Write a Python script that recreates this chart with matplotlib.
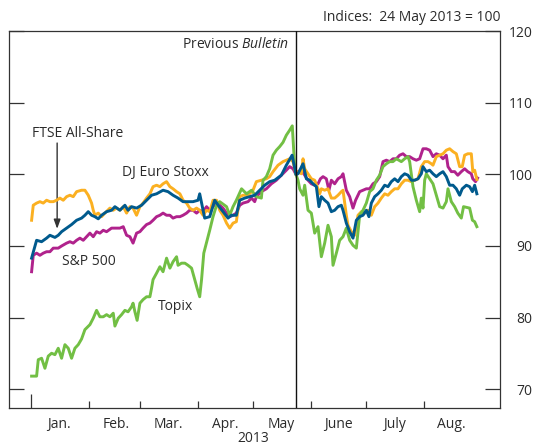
import datetime as dt
import matplotlib
matplotlib.use("Agg")
import matplotlib.pyplot as plt
import matplotlib.dates as mdates
from matplotlib.ticker import FixedLocator, FixedFormatter, NullFormatter

# ---------------- data (days since 1 Jan 2013, index values 24 May 2013 = 100) -------------
ftse_days = [0.2, 2.9, 5.6, 8.3, 10.1, 12.8, 14.6, 16.4, 19.1, 21.8, 24.5, 27.2, 29.0, 30.8, 32.6,
             34.4, 36.2, 38.0, 40.7, 43.4, 45.2, 47.9, 50.6, 52.3, 54.2, 56.9, 59.6, 62.3, 65.0,
             67.7, 71.2, 73.9, 76.6, 79.3, 82.0, 84.7, 87.4, 90.1, 91.0, 93.7, 96.4, 99.1, 101.8,
             104.5, 106.3, 108.1, 110.8, 112.6, 115.3, 118.0, 120.7, 123.4, 126.1, 128.8, 131.5,
             135.1, 137.8, 140.9, 143.0, 144.1, 146.8, 148.6, 150.4, 152.2, 154.0, 155.4, 156.7,
             158.5, 160.3, 162.1, 163.9, 165.7, 167.5, 168.4, 170.2, 172.0, 173.8, 175.6, 177.4,
             179.2, 181.0, 182.4, 183.7, 185.5, 187.3, 189.1, 190.9, 192.7, 194.5, 196.3, 198.1,
             199.9, 201.7, 203.5, 205.3, 207.1, 208.9, 210.7, 211.6, 213.4, 215.2, 217.0, 218.8,
             220.6, 222.4, 224.2, 226.0, 227.8, 229.6, 231.4, 232.8, 235.0, 236.8, 238.3, 239.5,
             240.7]
ftse_vals = [88.3, 90.8, 90.6, 91.1, 91.5, 91.2, 91.5, 92.0, 92.5, 93.0, 93.6, 93.9, 94.3, 94.8, 94.3,
             94.1, 93.8, 94.3, 94.8, 95.0, 95.5, 95.0, 95.7, 95.0, 95.5, 95.3, 95.7, 96.4, 97.1,
             97.3, 97.8, 97.6, 97.1, 96.7, 96.2, 96.2, 96.2, 96.4, 97.3, 93.9, 94.1, 96.4, 95.4,
             94.5, 93.9, 94.3, 94.3, 96.4, 96.7, 96.9, 97.1, 97.8, 98.5, 99.0, 99.2,
             99.9, 101.3, 102.7, 100.0, 100.1, 101.5, 99.4, 99.2, 98.7, 98.3, 95.5, 96.9,
             96.4, 96.0, 94.8, 95.0, 95.5, 95.7, 95.0, 93.2, 92.0, 91.1, 93.6, 94.1,
             94.3, 95.0, 94.1, 96.0, 96.9, 97.3, 97.8, 98.5, 98.3, 99.0, 99.4, 99.0,
             99.7, 100.1, 99.9, 99.2, 99.2, 99.4, 100.1, 101.1, 100.4, 100.6, 100.1, 99.7,
             100.1, 100.4, 99.7, 98.5, 98.5, 98.0, 97.1, 98.0, 98.5, 98.3, 97.6, 98.5,
             97.3]

stoxx_days = [0.2, 1.1, 2.9, 4.7, 6.5, 8.3, 10.1, 11.9, 13.7, 15.5, 17.3, 19.1, 20.9, 22.7, 24.5,
              27.2, 29.0, 30.8, 32.6, 33.5, 34.4, 36.2, 38.0, 39.8, 42.5, 44.3, 46.1, 47.9, 49.7,
              51.5, 53.3, 55.0, 56.9, 58.7, 60.4, 62.3, 64.1, 65.8, 67.7, 69.5, 71.2, 73.1, 74.9,
              76.6, 78.5, 80.3, 82.0, 83.9, 85.6, 87.4, 89.3, 91.0, 92.8, 94.7, 96.4, 98.2, 100.1,
              101.8, 103.6, 105.5, 107.2, 109.0, 110.8, 112.6, 114.4, 117.1, 119.8, 121.6, 124.3,
              127.0, 128.8, 130.6, 133.3, 136.0, 137.8, 139.6, 141.4, 143.0, 144.1, 145.9, 146.8,
              147.7, 149.5, 151.3, 153.1, 154.9, 155.8, 156.7, 158.5, 160.3, 162.1, 163.9, 165.7,
              167.5, 168.4, 170.2, 171.1, 172.9, 174.7, 176.5, 178.3, 180.1, 181.9, 183.7, 185.5,
              187.3, 189.1, 190.9, 192.7, 194.5, 196.3, 198.1, 199.9, 201.7, 203.5, 205.3, 207.1,
              208.9, 210.7, 212.5, 214.3, 216.1, 217.0, 218.8, 220.6, 222.4, 224.2, 226.0, 227.8,
              229.6, 231.4, 232.8, 234.1, 235.8, 237.7, 238.5, 239.5, 240.7]
stoxx_vals = [93.6, 95.7, 96.0, 96.2, 96.0, 96.4, 96.2, 96.2, 96.4, 96.7, 96.4, 96.9, 97.1, 96.9, 97.6,
              97.8, 97.8, 97.1, 96.0, 95.0, 94.3, 94.6, 94.1, 94.6, 95.3, 95.0, 95.3, 95.0, 95.5,
              94.6, 95.5, 95.3, 94.3, 95.5, 96.0, 96.7, 97.3, 98.3, 98.5, 98.3, 98.7, 99.0, 98.3,
              98.0, 97.6, 97.3, 96.4, 96.0, 95.3, 95.0, 95.3, 95.0, 94.3, 95.0, 94.8, 96.4, 96.4,
              95.0, 94.3, 93.2, 92.5, 93.2, 93.4, 96.9, 97.1, 97.1, 97.8, 99.0, 99.2,
              99.4, 99.7, 100.4, 101.3, 101.8, 102.0, 102.2, 101.8, 100.0, 100.4, 100.1, 102.2,
              100.8, 100.1, 99.4, 99.2, 98.0, 97.3, 98.0, 97.8, 98.0, 96.7, 96.7, 97.1,
              97.6, 97.8, 94.3, 92.9, 92.0, 91.5, 94.3, 94.8, 94.6, 95.0, 94.3, 95.5,
              96.0, 96.7, 97.3, 97.1, 97.6, 98.0, 98.0, 98.7, 99.2, 99.2, 99.0, 99.2,
              99.4, 101.1, 101.8, 101.8, 101.5, 101.3, 102.5, 102.7, 102.9, 103.4, 103.6, 103.2,
              102.9, 101.1, 101.1, 102.7, 102.9, 102.9, 100.4, 100.6, 99.3]

sp_days = [0.2, 1.1, 2.9, 4.7, 6.5, 8.3, 10.1, 11.9, 14.6, 16.4, 19.1, 20.9, 22.7, 24.5, 26.3,
           28.1, 29.9, 31.7, 33.5, 35.3, 37.1, 38.9, 40.7, 43.4, 46.1, 47.9, 49.7, 51.5, 53.3,
           55.0, 56.9, 58.7, 60.4, 62.3, 64.1, 65.8, 67.7, 69.5, 71.2, 73.1, 74.9, 76.6, 78.5,
           80.3, 82.0, 83.9, 85.6, 87.4, 89.3, 91.0, 92.8, 94.7, 96.4, 98.2, 100.1, 101.8, 103.6,
           105.5, 107.2, 109.0, 110.8, 112.6, 114.4, 117.1, 119.0, 120.7, 121.6, 124.3, 127.0,
           129.7, 132.4, 135.1, 137.8, 139.6, 141.4, 143.0, 144.1, 145.9, 147.7, 149.5, 151.3,
           153.1, 154.9, 156.2, 157.6, 159.4, 160.8, 162.1, 163.9, 165.7, 167.5, 168.4, 170.2,
           172.0, 173.8, 175.2, 177.4, 179.2, 181.0, 182.8, 184.6, 186.4, 188.2, 190.0, 191.8,
           193.6, 195.4, 197.2, 199.0, 200.8, 202.6, 204.4, 206.2, 208.0, 209.8, 211.6, 213.4,
           215.2, 217.0, 218.8, 220.6, 222.4, 224.2, 225.1, 226.9, 228.7, 230.4, 232.3, 234.1,
           235.8, 237.7, 238.5, 240.0, 241.1]
sp_vals = [86.4, 88.7, 89.0, 88.7, 89.0, 89.2, 89.2, 89.7, 89.7, 90.0, 90.4, 90.6, 90.4, 90.8, 91.1,
           90.8, 91.3, 91.8, 91.3, 92.0, 91.8, 92.2, 92.0, 92.5, 92.5, 92.5, 92.7, 91.5, 91.3,
           90.4, 91.8, 92.0, 92.5, 93.0, 93.2, 93.6, 94.1, 94.3, 94.6, 94.3, 94.3, 93.9, 94.1,
           94.1, 94.3, 94.6, 95.0, 95.0, 94.6, 95.0, 94.8, 95.5, 95.0, 95.5, 96.2, 95.7, 95.3,
           94.6, 94.1, 94.3, 94.6, 95.7, 96.0, 96.2, 96.7, 96.2, 96.9, 97.6, 98.0,
           98.7, 99.2, 99.9, 100.6, 101.1, 100.8, 100.0, 100.4, 100.6, 99.9, 99.2, 98.7,
           98.5, 98.7, 99.4, 99.7, 99.4, 97.8, 99.2, 98.7, 99.4, 99.7, 100.1, 97.8,
           96.9, 95.3, 96.4, 97.6, 97.8, 98.0, 98.0, 98.7, 99.0, 99.7, 101.8, 102.0,
           101.8, 102.2, 102.2, 102.7, 102.9, 102.5, 102.5, 102.2, 102.0, 102.2, 103.6, 103.6,
           103.4, 102.5, 102.9, 102.7, 102.2, 102.7, 101.1, 100.4, 100.4, 99.9, 100.4, 100.8,
           100.4, 100.1, 99.4, 99.0, 99.5]

topix_days = [0.2, 2.9, 3.8, 5.6, 7.4, 9.2, 11.0, 12.8, 14.6, 16.4, 18.2, 20.0, 21.8, 23.6, 25.4,
              27.2, 29.0, 31.7, 33.5, 35.3, 37.1, 38.9, 40.7, 42.5, 44.3, 45.2, 47.0, 48.8, 50.6,
              52.3, 54.2, 55.0, 56.0, 57.2, 58.7, 60.4, 62.3, 64.1, 65.0, 65.8, 67.7, 69.5, 71.2,
              73.1, 74.9, 76.6, 78.5, 79.3, 81.2, 83.0, 84.7, 86.6, 88.3, 89.6, 91.0, 92.0, 93.2,
              95.0, 96.4, 98.2, 100.1, 101.8, 105.5, 107.2, 109.0, 110.8, 113.6, 116.3, 119.0,
              121.6, 124.3, 125.2, 127.0, 128.8, 130.6, 132.4, 134.2, 136.0, 137.8, 139.6, 141.0,
              142.3, 143.0, 144.1, 145.0, 146.8, 147.7, 149.5, 151.3, 153.1, 154.9, 156.7, 158.5,
              160.3, 162.1, 163.0, 164.8, 166.6, 168.4, 170.2, 172.0, 173.8, 175.6, 177.4, 179.2,
              181.0, 182.8, 184.6, 186.4, 188.2, 190.0, 191.8, 193.6, 195.4, 197.2, 199.9, 201.7,
              203.5, 204.4, 206.2, 208.0, 209.8, 210.7, 211.6, 212.5, 213.4, 215.2, 217.0, 218.8,
              220.6, 222.4, 224.2, 225.1, 226.9, 228.7, 230.4, 232.3, 233.5, 236.8, 238.3, 239.5,
              240.7]
topix_vals = [71.8, 71.8, 74.1, 74.3, 72.9, 74.6, 75.0, 74.8, 75.7, 74.3, 76.2, 75.7, 74.3, 75.7, 76.2,
              77.0, 78.3, 79.0, 79.9, 81.0, 80.1, 80.1, 80.4, 80.1, 80.6, 78.8, 79.9, 80.4, 81.0,
              80.8, 81.5, 82.0, 80.8, 79.6, 82.0, 82.5, 82.9, 82.9, 84.1, 85.3, 86.2, 87.1, 86.4,
              88.3, 86.9, 87.8, 88.5, 87.3, 87.6, 87.6, 87.3, 86.9, 85.3, 84.1, 82.9, 85.3, 89.0,
              90.8, 92.2, 94.1, 95.7, 96.2, 95.5, 94.3, 95.5, 96.4, 98.0, 97.3, 97.8,
              96.9, 96.7, 99.2, 99.7, 100.8, 102.7, 103.4, 103.9, 104.5, 105.5, 106.2, 106.8,
              101.1, 100.0, 99.2, 98.0, 97.1, 98.5, 95.0, 94.6, 91.8, 92.7, 88.5, 90.4,
              92.9, 91.3, 87.3, 89.0, 90.8, 91.3, 92.5, 90.8, 90.1, 89.7, 94.3, 95.0,
              96.0, 97.6, 98.0, 99.2, 99.9, 101.1, 101.5, 101.8, 101.8, 102.2, 101.8, 102.2,
              102.5, 101.8, 98.3, 96.4, 94.8, 96.7, 95.3, 99.2, 100.1, 99.4, 98.7, 97.1,
              95.5, 95.3, 96.2, 98.0, 96.2, 95.5, 94.6, 93.9, 95.5, 95.3, 93.6, 93.4,
              92.7]

month_labels = ["Jan.", "Feb.", "Mar.", "Apr.", "May", "June", "July", "Aug."]
year_label = "2013"
base_date = dt.datetime(2013, 1, 1)
bulletin_date = dt.datetime(2013, 5, 24)
y_ticks = [70, 80, 90, 100, 110, 120]

# ---------------- styling ----------------
FONT = "Open Sans"
plt.rcParams["font.family"] = [FONT, "DejaVu Sans"]
plt.rcParams["font.size"] = 10
plt.rcParams["mathtext.fontset"] = "custom"
plt.rcParams["mathtext.rm"] = FONT
plt.rcParams["mathtext.it"] = FONT + ":italic"
TEXT = "#2b2b2b"
AX = "#333333"

C_FTSE = "#005a8d"
C_STOXX = "#fbb021"
C_SP = "#b0228c"
C_TOPIX = "#72bf44"


def to_dates(days):
    return [base_date + dt.timedelta(days=float(d)) for d in days]


fig = plt.figure(figsize=(5.33, 4.48), dpi=100)
ax = fig.add_axes([0.0169, 0.0886, 0.9212, 0.8411])

lw = 2.1
ax.plot(to_dates(sp_days), sp_vals, color=C_SP, lw=lw, solid_joinstyle="round", zorder=3)
ax.plot(to_dates(stoxx_days), stoxx_vals, color=C_STOXX, lw=lw, solid_joinstyle="round", zorder=4)
ax.plot(to_dates(topix_days), topix_vals, color=C_TOPIX, lw=lw, solid_joinstyle="round", zorder=5)
ax.plot(to_dates(ftse_days), ftse_vals, color=C_FTSE, lw=lw, solid_joinstyle="round", zorder=6)

ax.axvline(bulletin_date, color="#111111", lw=1.0, zorder=7)

ax.set_xlim(base_date - dt.timedelta(days=12), base_date + dt.timedelta(days=253.2))
ax.set_ylim(67.3, 120)

# x axis: month-start ticks, labels centred mid-month
month_starts = [mdates.date2num(dt.datetime(2013, m, 1)) for m in range(1, 9)]
month_mids = [mdates.date2num(dt.datetime(2013, m, 16)) for m in range(1, 9)]
ax.xaxis.set_major_locator(FixedLocator(month_starts))
ax.xaxis.set_major_formatter(NullFormatter())
ax.xaxis.set_minor_locator(FixedLocator(month_mids))
ax.xaxis.set_minor_formatter(FixedFormatter(month_labels))
ax.tick_params(axis="x", which="major", direction="in", length=4.8, width=0.9, color=AX,
               top=False)
ax.tick_params(axis="x", which="minor", length=0, pad=6.5, labelsize=10, labelcolor=TEXT)
# year-start tick is longer
ax.xaxis.get_major_ticks()[0].tick1line.set_markersize(10)

# y axis: ticks inside on both sides, labels on the right (right-aligned)
ax.set_yticks(y_ticks)
ax.tick_params(axis="y", which="major", direction="in", length=10.5, width=0.9, color=AX,
               left=True, right=True, labelleft=False, labelright=True, pad=23.5,
               labelsize=10, labelcolor=TEXT)
plt.setp(ax.yaxis.get_majorticklabels(), ha="right")

for s in ax.spines.values():
    s.set_color(AX)
    s.set_linewidth(0.9)

# ---------------- annotations ----------------
ax.annotate(r"Previous $\mathit{Bulletin}$", xy=(bulletin_date, 1),
            xycoords=("data", "axes fraction"), xytext=(-5, -9.7), textcoords="offset points",
            ha="right", va="center", color=TEXT, fontsize=10)
ax.annotate("Indices:  24 May 2013 = 100", xy=(1, 1), xycoords="axes fraction",
            xytext=(0, 10.4), textcoords="offset points", ha="right", va="center",
            color=TEXT, fontsize=10)
ax.annotate(year_label, xy=(0.497, 0), xycoords="axes fraction", xytext=(0, -22.0),
            textcoords="offset points", ha="center", va="center", color=TEXT, fontsize=10)

label_style = dict(color=TEXT, fontsize=10, va="center", ha="left")
ax.text(base_date + dt.timedelta(days=0.2), 105.8, "FTSE All-Share", **label_style)
ax.text(base_date + dt.timedelta(days=48.8), 100.25, "DJ Euro Stoxx", **label_style)
ax.text(base_date + dt.timedelta(days=16.4), 87.8, "S&P 500", **label_style)
ax.text(base_date + dt.timedelta(days=68.5), 81.5, "Topix", **label_style)

arrow_day = base_date + dt.timedelta(days=14.0)
ax.annotate("", xy=(arrow_day, 92.4), xytext=(arrow_day, 104.4),
            arrowprops=dict(arrowstyle="-|>,head_length=0.55,head_width=0.2", lw=1.0,
                            color="#333333", shrinkA=0, shrinkB=0))

fig.savefig("out.png", dpi=100)
